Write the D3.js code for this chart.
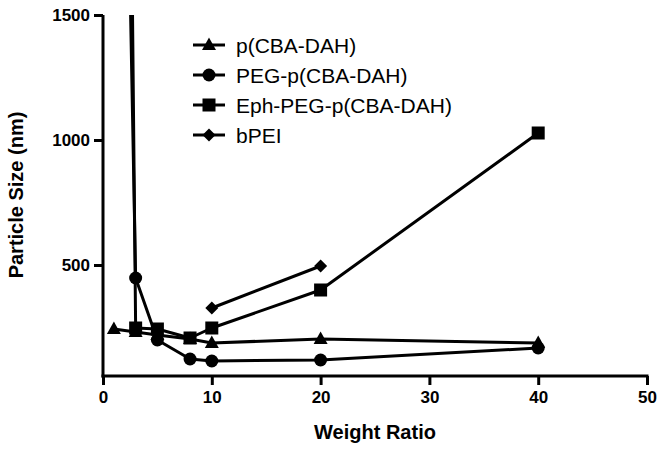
<!DOCTYPE html>
<html><head><meta charset="utf-8">
<script src="https://cdn.jsdelivr.net/npm/d3@7"></script>
<style>body{margin:0;background:#fff}svg{display:block}</style>
</head><body>
<script>
const xTicks = [0, 10, 20, 30, 40, 50];
const yTicks = [500, 1000, 1500];
const seriesNames = ["p(CBA-DAH)", "PEG-p(CBA-DAH)", "Eph-PEG-p(CBA-DAH)", "bPEI"];
const symbols = ["triangle", "circle", "square", "diamond"];
const ratiosA = [1, 3, 5, 8, 10, 20, 40];
const valuesA = [244, 232, 220, 204, 188, 204, 188];
const ratiosB = [1, 3, 5, 8, 10, 20, 40];
const valuesB = [5000, 448, 200, 124, 116, 120, 168];
const ratiosC = [1, 3, 5, 8, 10, 20, 40];
const valuesC = [9000, 248, 244, 208, 248, 400, 1028];
const ratiosD = [10, 20];
const valuesD = [328, 496];

const W = 664, H = 451;
const svg = d3.select("body").append("svg").attr("width", W).attr("height", H);
const x = d3.scaleLinear().domain([0, 50]).range([103, 647]);
const y = d3.scaleLinear().domain([56, 1500]).range([376, 15]);
const font = "'Liberation Sans', Arial, Helvetica, sans-serif";

svg.append("clipPath").attr("id", "clip").append("rect")
  .attr("x", x(0)).attr("y", y(1500)).attr("width", x(50) - x(0)).attr("height", y(56) - y(1500));

const series = [
  {name: seriesNames[0], sym: symbols[0], xs: ratiosA, vs: valuesA},
  {name: seriesNames[1], sym: symbols[1], xs: ratiosB, vs: valuesB},
  {name: seriesNames[2], sym: symbols[2], xs: ratiosC, vs: valuesC},
  {name: seriesNames[3], sym: symbols[3], xs: ratiosD, vs: valuesD}
];

function drawMarker(g, sym, cx, cy) {
  if (sym === "circle") {
    g.append("circle").attr("cx", cx).attr("cy", cy).attr("r", 6.5).attr("fill", "#000");
  } else if (sym === "square") {
    g.append("rect").attr("x", cx - 6.5).attr("y", cy - 6.5).attr("width", 13).attr("height", 13).attr("fill", "#000");
  } else if (sym === "triangle") {
    g.append("path").attr("d", `M${cx},${cy-7.5}L${cx+7},${cy+5}L${cx-7},${cy+5}Z`).attr("fill", "#000");
  } else {
    g.append("path").attr("d", `M${cx},${cy-6.5}L${cx+6.5},${cy}L${cx},${cy+6.5}L${cx-6.5},${cy}Z`).attr("fill", "#000");
  }
}

const plot = svg.append("g").attr("clip-path", "url(#clip)");
const line = d3.line().x(d => x(d[0])).y(d => y(d[1]));
series.forEach(s => {
  const pts = s.xs.map((v, i) => [v, s.vs[i]]);
  plot.append("path").attr("d", line(pts)).attr("fill", "none")
    .attr("stroke", "#000").attr("stroke-width", 3).attr("stroke-linejoin", "round");
});
series.forEach(s => {
  s.xs.forEach((v, i) => {
    if (s.vs[i] <= 1500) drawMarker(plot, s.sym, x(v), y(s.vs[i]));
  });
});

// axes
const xAxis = svg.append("g").attr("transform", `translate(0,376)`)
  .call(d3.axisBottom(x).tickValues(xTicks).tickFormat(d3.format("d")).tickSize(9).tickPadding(6).tickSizeOuter(0));
const yAxis = svg.append("g").attr("transform", `translate(103,0)`)
  .call(d3.axisLeft(y).tickValues(yTicks).tickFormat(d3.format("d")).tickSize(9).tickPadding(4).tickSizeOuter(0));
[xAxis, yAxis].forEach(a => {
  a.select(".domain").attr("stroke-width", 3).attr("stroke", "#000");
  a.selectAll(".tick line").attr("stroke-width", 3).attr("stroke", "#000");
  a.selectAll("text").attr("font-family", font).attr("font-weight", "bold")
    .attr("font-size", 17).attr("fill", "#000");
});
xAxis.select(".domain").attr("d", `M${x(0)-1.5},0H${x(50)+1.5}`);
yAxis.select(".domain").attr("d", `M0,${y(56)+1.5}V${y(1500)}`);

svg.append("text").attr("x", 375).attr("y", 439).attr("text-anchor", "middle")
  .attr("font-family", font).attr("font-weight", "bold").attr("font-size", 20).text("Weight Ratio");
svg.append("text").attr("transform", "translate(23,195) rotate(-90)").attr("text-anchor", "middle")
  .attr("font-family", font).attr("font-weight", "bold").attr("font-size", 20).text("Particle Size (nm)");

// legend
const leg = svg.append("g");
series.forEach((s, i) => {
  const cy = 45 + i * 30;
  leg.append("line").attr("x1", 193).attr("x2", 225).attr("y1", cy).attr("y2", cy)
    .attr("stroke", "#000").attr("stroke-width", 3);
  drawMarker(leg, s.sym, 209, cy);
  leg.append("text").attr("x", 236).attr("y", cy + 7.5).attr("font-family", font)
    .attr("font-size", 21).attr("fill", "#000").text(s.name);
});
</script>
</body></html>
